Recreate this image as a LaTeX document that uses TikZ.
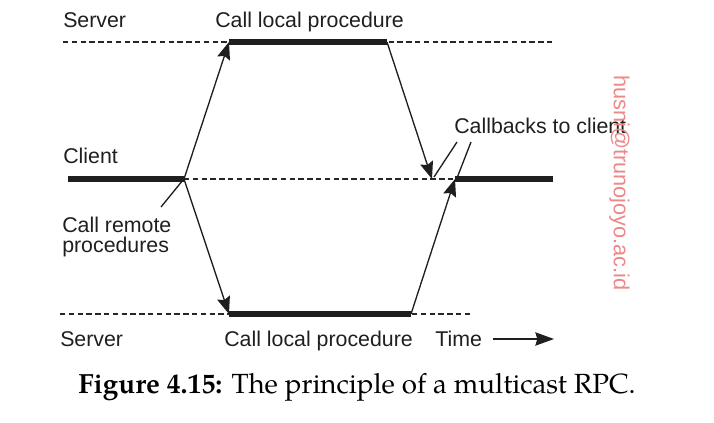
\documentclass[tikz,border=0pt]{standalone}
\usepackage{fontspec}
\usetikzlibrary{arrows.meta}
\newfontfamily\lab{Liberation Sans}
\newfontfamily\pal{texgyrepagella-regular.otf}[BoldFont=texgyrepagella-bold.otf]
\begin{document}
\begin{tikzpicture}[x=0.75pt,y=-0.75pt,
  lbl/.style={anchor=base west,inner sep=0pt,font=\lab\fontsize{16}{18}\selectfont,text=black!88},
  dash line/.style={line width=0.9pt,dash pattern=on 4pt off 2.6pt,black!85},
  thick line/.style={line width=3.8pt,black!88},
  msg/.style={line width=1pt,black!88,-{Stealth[length=13pt,width=10pt,inset=2pt]}},
  leader/.style={line width=1pt,black!88}]
\useasboundingbox (0,0) rectangle (714,422);
% coordinates
\coordinate (sl) at (63,42);  \coordinate (sa) at (229,42); \coordinate (sb) at (387,42); \coordinate (sr) at (553,42);
\coordinate (cl) at (68,179); \coordinate (ca) at (184,179); \coordinate (cb) at (432,179); \coordinate (cc) at (455,179); \coordinate (cr) at (553,179);
\coordinate (bl) at (60,314); \coordinate (ba) at (229,314); \coordinate (bb) at (411,314); \coordinate (br) at (473,314);
% lines
\draw[dash line] (sl) -- (sr);
\draw[dash line] (ca) -- (cc);
\draw[dash line] (bl) -- (br);
\draw[thick line] (sa) -- (sb);
\draw[thick line] (cl) -- (ca);
\draw[thick line] (cc) -- (cr);
\draw[thick line] (ba) -- (bb);
% messages
\draw[msg] (ca) -- (sa);
\draw[msg] (sb) -- (cb);
\draw[msg] (ca) -- (ba);
\draw[msg] (bb) -- (cc);
% labels
\node[lbl] (t1) at (63,27) {Server};
\node[lbl] (t2) at (215,27) {Call local procedure};
\node[lbl] (t3) at (63,163) {Client};
\node[lbl] (t4) at (454,133) {Callbacks to client};
\node[lbl] (t5) at (62,232) {Call remote};
\node[lbl] (t6) at (62,252) {procedures};
\node[lbl] (t7) at (60,346) {Server};
\node[lbl] (t8) at (224,346) {Call local procedure};
\node[lbl] (t9) at (435,346) {Time};
% leaders
\coordinate (l1a) at (457,142); \coordinate (l1b) at (434,177);
\coordinate (l2a) at (471,142); \coordinate (l2b) at (457,178);
\coordinate (l3a) at (183,180); \coordinate (l3b) at (161,207);
\draw[leader] (l1a) -- (l1b);
\draw[leader] (l2a) -- (l2b);
\draw[leader] (l3a) -- (l3b);
% time arrow
\coordinate (ta) at (493,339); \coordinate (tb) at (554,339);
\draw[msg,-{Stealth[length=14pt,width=10pt,inset=1.5pt]}] (ta) -- (tb);
% watermark
\node[anchor=north west,inner sep=0pt,rotate=-90,font=\lab\fontsize{16.3}{18}\selectfont,text={rgb,255:red,238;green,135;blue,135}] (wm) at (630,75) {husni@trunojoyo.ac.id};
% caption
\node[anchor=base west,inner sep=0pt,font=\pal\fontsize{20.8}{24}\selectfont] (cap) at (78,393) {\textbf{Figure 4.15:} The principle of a multicast RPC.};
\end{tikzpicture}
\end{document}
